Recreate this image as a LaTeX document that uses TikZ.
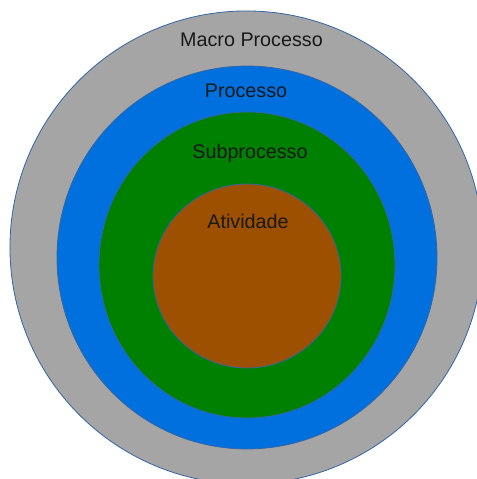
\documentclass[tikz,border=0pt]{standalone}
\usepackage{fontspec}
\setmainfont{Liberation Sans}
\definecolor{ringgray}{HTML}{A5A5A5}
\definecolor{ringblue}{HTML}{0070DF}
\definecolor{ringgreen}{HTML}{008000}
\definecolor{ringbrown}{HTML}{9C5000}
\definecolor{edgeblue}{HTML}{3465A4}
\begin{document}
\begin{tikzpicture}[x=0.75pt,y=-0.75pt,
    ring/.style={draw=edgeblue,line width=0.6pt},
    lbl/.style={anchor=base,inner sep=0pt,text=black!90,
      font=\fontsize{14.8}{17}\selectfont}]
  \useasboundingbox (0,0) rectangle (477,479);
  \clip (0,0) rectangle (477,479);
  % nested levels, outermost first
  \filldraw[ring,fill=ringgray]  (246.5,247.5) ellipse [x radius=177.4pt, y radius=177.4pt];
  \filldraw[ring,fill=ringblue]  (247,257.5)   ellipse [x radius=142.5pt, y radius=143.6pt];
  \filldraw[ring,fill=ringgreen] (247,265)     ellipse [x radius=111pt,   y radius=114.75pt];
  \filldraw[ring,fill=ringbrown] (247,276)     ellipse [x radius=70.5pt,  y radius=69pt];
  % level names
  \node[lbl] (macro)  at (251.5,46)  {Macro Processo};
  \node[lbl] (proc)   at (246,97)    {Processo};
  \node[lbl] (sub)    at (250,158.3) {Subprocesso};
  \node[lbl] (ativ)   at (248,228.5) {Atividade};
\end{tikzpicture}
\end{document}
